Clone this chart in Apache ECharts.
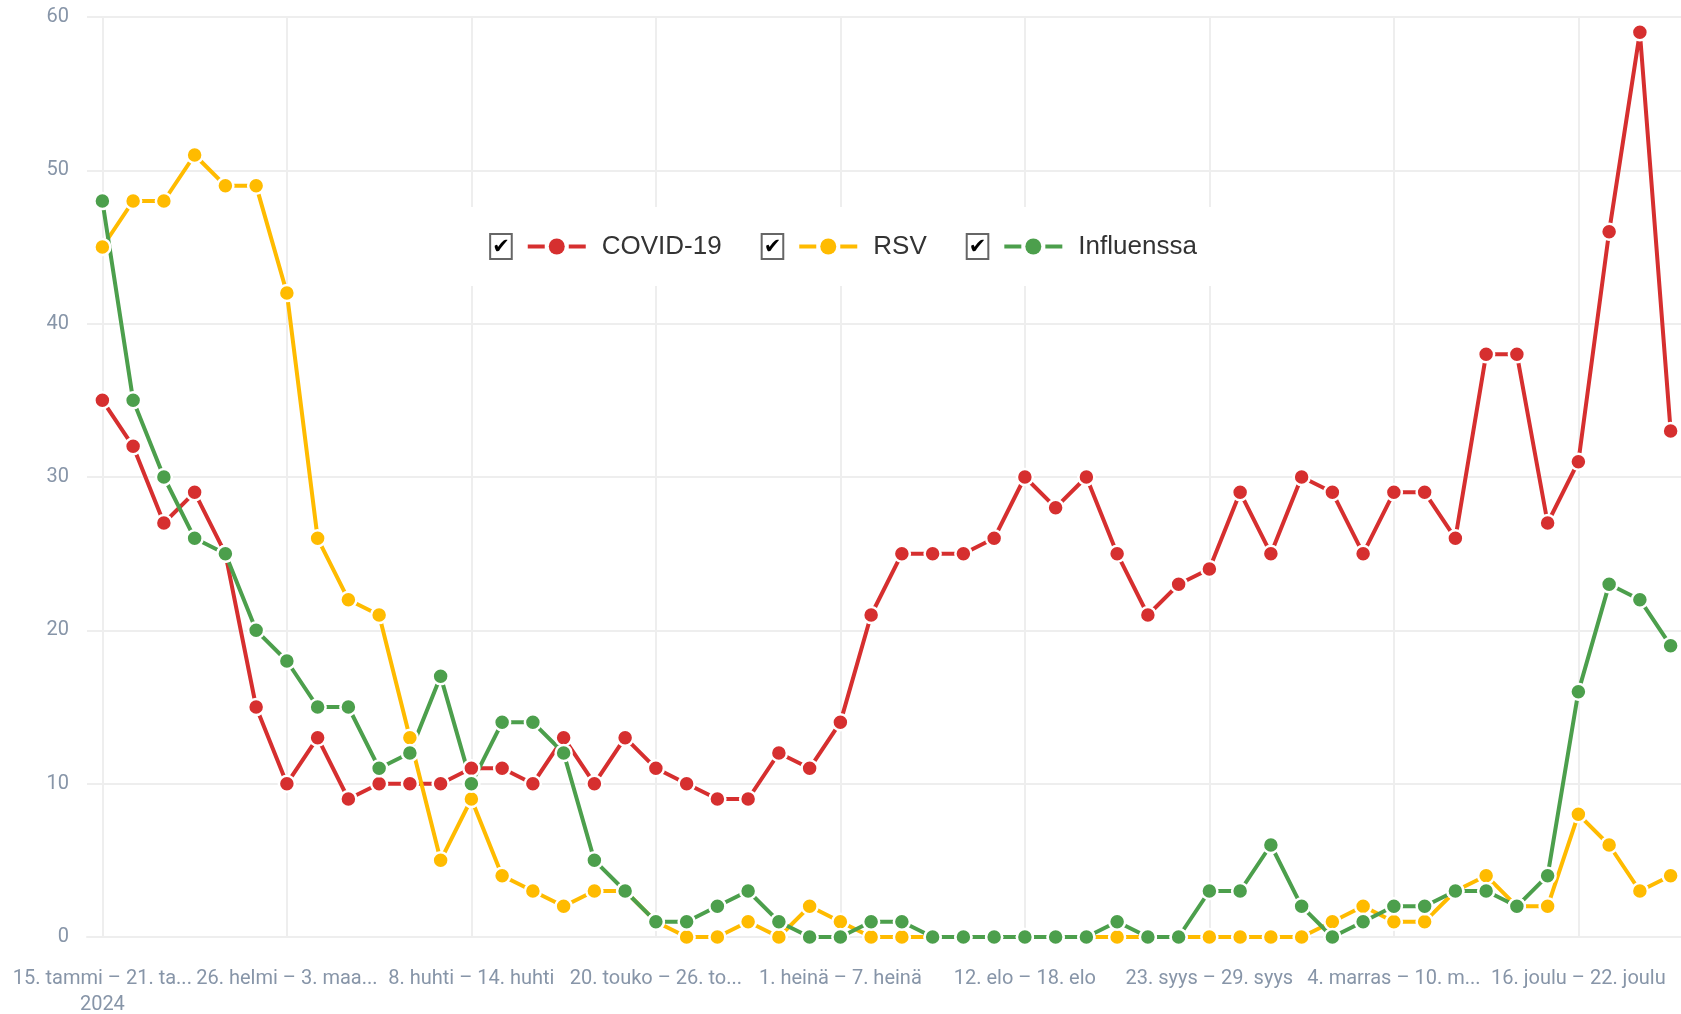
<!DOCTYPE html>
<html>
<head>
<meta charset="utf-8">
<title>COVID-19, RSV, Influenssa 2024</title>
<script src="https://cdn.jsdelivr.net/npm/echarts@6/dist/echarts.min.js"></script>
<style>
  html, body { margin: 0; padding: 0; background: #fff; }
  #chart { width: 1681px; height: 1014px; }
</style>
</head>
<body>
<div id="chart"></div>
<script>
// viikot (maanantai - sunnuntai)
var weeks = [
  '15. tammi – 21. tammi', '22. tammi – 28. tammi', '29. tammi – 4. helmi', '5. helmi – 11. helmi',
  '12. helmi – 18. helmi', '19. helmi – 25. helmi', '26. helmi – 3. maalis', '4. maalis – 10. maalis',
  '11. maalis – 17. maalis', '18. maalis – 24. maalis', '25. maalis – 31. maalis', '1. huhti – 7. huhti',
  '8. huhti – 14. huhti', '15. huhti – 21. huhti', '22. huhti – 28. huhti', '29. huhti – 5. touko',
  '6. touko – 12. touko', '13. touko – 19. touko', '20. touko – 26. touko', '27. touko – 2. kesä',
  '3. kesä – 9. kesä', '10. kesä – 16. kesä', '17. kesä – 23. kesä', '24. kesä – 30. kesä',
  '1. heinä – 7. heinä', '8. heinä – 14. heinä', '15. heinä – 21. heinä', '22. heinä – 28. heinä',
  '29. heinä – 4. elo', '5. elo – 11. elo', '12. elo – 18. elo', '19. elo – 25. elo',
  '26. elo – 1. syys', '2. syys – 8. syys', '9. syys – 15. syys', '16. syys – 22. syys',
  '23. syys – 29. syys', '30. syys – 6. loka', '7. loka – 13. loka', '14. loka – 20. loka',
  '21. loka – 27. loka', '28. loka – 3. marras', '4. marras – 10. marras', '11. marras – 17. marras',
  '18. marras – 24. marras', '25. marras – 1. joulu', '2. joulu – 8. joulu', '9. joulu – 15. joulu',
  '16. joulu – 22. joulu', '23. joulu – 29. joulu', '30. joulu – 5. tammi', '6. tammi – 12. tammi'
];
var yearLabel = '2024';

var covid = [35, 32, 27, 29, 25, 15, 10, 13, 9, 10, 10, 10, 11, 11, 10, 13, 10, 13, 11, 10, 9, 9, 12, 11, 14, 21,
  25, 25, 25, 26, 30, 28, 30, 25, 21, 23, 24, 29, 25, 30, 29, 25, 29, 29, 26, 38, 38, 27, 31, 46, 59, 33];
var rsv = [45, 48, 48, 51, 49, 49, 42, 26, 22, 21, 13, 5, 9, 4, 3, 2, 3, 3, 1, 0, 0, 1, 0, 2, 1, 0,
  0, 0, 0, 0, 0, 0, 0, 0, 0, 0, 0, 0, 0, 0, 1, 2, 1, 1, 3, 4, 2, 2, 8, 6, 3, 4];
var influenssa = [48, 35, 30, 26, 25, 20, 18, 15, 15, 11, 12, 17, 10, 14, 14, 12, 5, 3, 1, 1, 2, 3, 1, 0, 0, 1,
  1, 0, 0, 0, 0, 0, 0, 1, 0, 0, 3, 3, 6, 2, 0, 1, 2, 2, 3, 3, 2, 4, 16, 23, 22, 19];

var seriesNames = ['COVID-19', 'RSV', 'Influenssa'];
var seriesColors = ['#d62f2f', '#ffbb00', '#4c9f4c'];
var seriesData = [covid, rsv, influenssa];

var labelColor = '#8795a8';
var gridColor = '#eeeeee';

// legendan rich-tyylit: valintaruutu + viiva-pallo-viiva + nimi
var legendRich = {
  cb: { fontFamily: 'DejaVu Sans', fontSize: 21, fontWeight: 'bold', color: '#000', borderColor: '#666', borderWidth: 2, padding: [3, 2, 0, 2], height: 22, lineHeight: 22 },
  sp: { width: 16, fontSize: 4 },
  gp: { width: 4, fontSize: 4 },
  tx: { fontFamily: 'Liberation Sans', fontSize: 26, color: '#333' }
};
for (var k = 0; k < seriesNames.length; k++) {
  legendRich['ln' + k] = { width: 17, height: 4, fontSize: 4, backgroundColor: seriesColors[k] };
  legendRich['dt' + k] = { width: 16, height: 16, fontSize: 4, borderRadius: 8, backgroundColor: seriesColors[k] };
}

var series = [];
for (var i = 0; i < seriesNames.length; i++) {
  series.push({
    name: seriesNames[i],
    type: 'line',
    data: seriesData[i],
    symbol: 'circle',
    symbolSize: 16,
    showAllSymbol: true,
    lineStyle: { width: 4, color: seriesColors[i] },
    itemStyle: { color: seriesColors[i], borderColor: '#fff', borderWidth: 2.5 }
  });
}

var chart = echarts.init(document.getElementById('chart'));
chart.setOption({
  animation: false,
  backgroundColor: '#fff',
  textStyle: { fontFamily: 'Roboto' },
  grid: { left: 87, right: -5, top: 17, bottom: 77, containLabel: false, outerBoundsMode: 'none' },
  legend: {
    top: 207,
    left: 'center',
    backgroundColor: '#fff',
    padding: [26, 26],
    itemGap: 34,
    icon: 'rect',
    itemWidth: 0,
    itemHeight: 0,
    data: seriesNames,
    formatter: function (name) {
      var n = seriesNames.indexOf(name);
      return '{cb|✔}{sp| }{ln' + n + '| }{gp| }{dt' + n + '| }{gp| }{ln' + n + '| }{sp| }{tx|' + name + '}';
    },
    textStyle: { rich: legendRich }
  },
  xAxis: {
    type: 'category',
    data: weeks,
    boundaryGap: true,
    axisLine: { show: true, lineStyle: { color: gridColor, width: 2 } },
    axisTick: { show: false },
    splitLine: { show: true, interval: 5, alignWithLabel: true, lineStyle: { color: gridColor, width: 2 } },
    axisLabel: {
      interval: 5,
      margin: 29,
      color: labelColor,
      fontSize: 20,
      lineHeight: 26,
      width: 184,
      overflow: 'truncate',
      formatter: function (value, index) {
        return index === 0 ? value + '\n' + yearLabel : value;
      }
    }
  },
  yAxis: {
    type: 'value',
    min: 0,
    max: 60,
    interval: 10,
    axisLine: { show: false },
    axisTick: { show: false },
    splitLine: { show: true, lineStyle: { color: gridColor, width: 2 } },
    axisLabel: { color: labelColor, fontSize: 20, margin: 18, padding: [3, 0, 0, 0] }
  },
  series: series
});
</script>
</body>
</html>
